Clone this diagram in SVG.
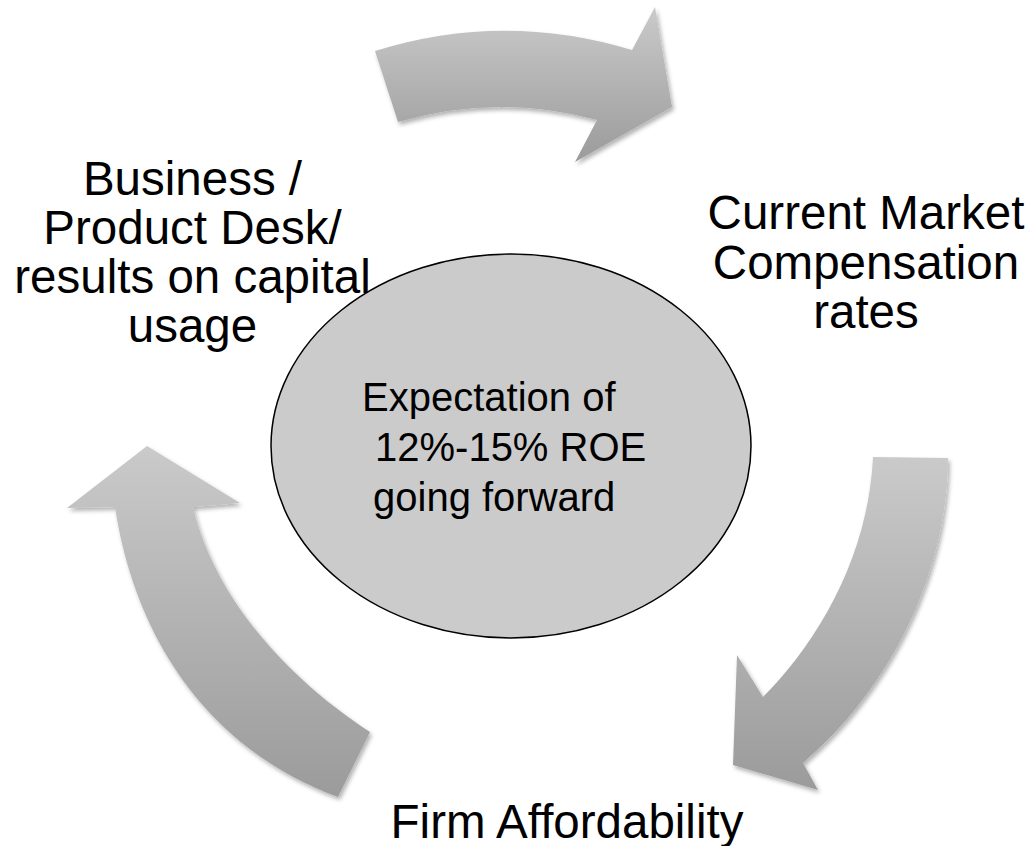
<svg xmlns="http://www.w3.org/2000/svg" width="1031" height="846" viewBox="0 0 1031 846">
  <style>
    .label { font-family: "Liberation Sans", Arial, sans-serif; font-size: 47.5px; fill: #000; text-anchor: middle; }
    .core { font-family: "Liberation Sans", Arial, sans-serif; font-size: 40px; fill: #000; }
    .arrow { fill: url(#arrowFill); filter: url(#softShadow); }
  </style>
  <defs>
    <linearGradient id="arrowFill" x1="0" y1="0" x2="0" y2="1">
      <stop offset="0" stop-color="#cacaca"/>
      <stop offset="1" stop-color="#9b9b9b"/>
    </linearGradient>
    <filter id="softShadow" x="-10%" y="-10%" width="125%" height="125%">
      <feDropShadow dx="2" dy="3" stdDeviation="2.2" flood-color="#000" flood-opacity="0.3"/>
    </filter>
  </defs>

  <!-- cycle arrows -->
  <g id="connectors">
    <!-- top: left label to right label -->
    <path id="arrow-top" class="arrow" d="M375,51 Q503,11 632,50 L655,7 L672,107 L575,162 L597,120 Q498,93 398,122 Z"/>
    <!-- right: down towards the bottom label -->
    <path id="arrow-right" class="arrow" d="M873,457 L948,458 C948,560 900,680 803,763 L818,790 L733,765 L737,655 L763,697 C815,645 868,560 873,457 Z"/>
    <!-- left: up towards the top-left label -->
    <path id="arrow-left" class="arrow" d="M338,797 C210,750 135,640 115,507 L67,508 L147,446 L240,503 L193,507 C215,600 290,680 370,732 Z"/>
  </g>

  <!-- central goal -->
  <g id="node-center">
    <ellipse cx="511" cy="446" rx="240" ry="192" fill="#cbcbcb" stroke="#000" stroke-width="1.5"/>
    <text class="core" x="362" y="411">Expectation of</text>
    <text class="core" x="375" y="461">12%-15% ROE</text>
    <text class="core" x="373" y="511">going forward</text>
  </g>

  <g id="node-business">
    <text class="label" x="192.5" y="195">Business /</text>
    <text class="label" x="192.5" y="244">Product Desk/</text>
    <text class="label" x="192.5" y="293">results on capital</text>
    <text class="label" x="192.5" y="342">usage</text>
  </g>

  <g id="node-market">
    <text class="label" x="866" y="229">Current Market</text>
    <text class="label" x="866" y="279">Compensation</text>
    <text class="label" x="866" y="328">rates</text>
  </g>

  <g id="node-affordability">
    <text class="label" x="567" y="838">Firm Affordability</text>
  </g>
</svg>
